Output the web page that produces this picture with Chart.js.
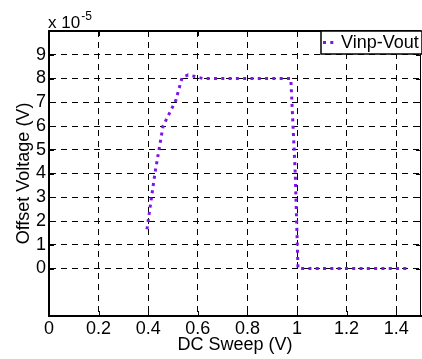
<!DOCTYPE html>
<html>
<head>
<meta charset="utf-8">
<script src="https://cdn.jsdelivr.net/npm/chart.js@4.4.0/dist/chart.umd.min.js"></script>
<style>
  html, body { margin: 0; padding: 0; background: #fff; }
  #wrap { width: 422px; height: 359px; }
</style>
</head>
<body>
<div id="wrap"><canvas id="graph"></canvas></div>
<script>
// DC sweep (V) and offset voltage, in units of 1e-5 V
var sweep = [0.395, 0.427, 0.46, 0.511, 0.537, 0.561, 0.595, 0.62, 0.975, 0.993, 1.004, 1.45];
var offset = [1.65, 4.0, 6.0, 7.07, 8.05, 8.15, 8.07, 8.0, 8.0, 4.0, 0.0, 0.0];
var xTicks = [0, 0.2, 0.4, 0.6, 0.8, 1, 1.2, 1.4];
var yTicks = [0, 1, 2, 3, 4, 5, 6, 7, 8, 9];
var seriesName = 'Vinp-Vout';
var exponent = '-5';

var purple = '#7d14ea';
var font = 'Liberation Sans, Arial, sans-serif';

var points = [];
for (var i = 0; i < sweep.length; i++) {
    points.push({x: sweep[i], y: offset[i]});
}

// box, inner tick marks, exponent label and legend (matlab style)
var matlabBits = {
    id: 'matlabBits',
    afterDraw: function(chart) {
        var ctx = chart.ctx;
        var a = chart.chartArea;
        var xs = chart.scales.x, ys = chart.scales.y;
        ctx.save();
        ctx.strokeStyle = '#000';
        ctx.lineWidth = 2;
        ctx.beginPath();
        ctx.moveTo(a.left, a.top);
        ctx.lineTo(a.right, a.top);
        ctx.stroke();
        ctx.lineWidth = 1;
        ctx.beginPath();
        ctx.moveTo(a.right - 0.5, a.top);
        ctx.lineTo(a.right - 0.5, a.bottom);
        ctx.stroke();

        // inner ticks
        ctx.lineWidth = 1;
        ctx.beginPath();
        xTicks.forEach(function(v) {
            var px = Math.round(xs.getPixelForValue(v)) + 0.5;
            ctx.moveTo(px, a.bottom); ctx.lineTo(px, a.bottom - 5);
            ctx.moveTo(px, a.top); ctx.lineTo(px, a.top + 5);
        });
        yTicks.forEach(function(v) {
            var py = Math.round(ys.getPixelForValue(v)) + 0.5;
            ctx.moveTo(a.left, py); ctx.lineTo(a.left + 5, py);
            ctx.moveTo(a.right, py); ctx.lineTo(a.right - 5, py);
        });
        ctx.stroke();

        // x 10^-5
        ctx.fillStyle = '#000';
        ctx.textBaseline = 'alphabetic';
        ctx.textAlign = 'left';
        ctx.font = '17px ' + font;
        ctx.fillText('x 10', a.left - 1, 28);
        var w = ctx.measureText('x 10').width;
        ctx.font = '12px ' + font;
        ctx.fillText(exponent, a.left - 1 + w + 1, 20);

        // legend
        var lx = 321, ly = a.top, lw = a.right - 321 + 1, lh = 23;
        ctx.fillStyle = '#fff';
        ctx.fillRect(lx, ly, lw, lh);
        ctx.strokeStyle = '#000';
        ctx.lineWidth = 1.5;
        ctx.strokeRect(lx, ly, lw, lh);
        ctx.strokeStyle = purple;
        ctx.lineWidth = 3;
        ctx.setLineDash([3, 4.3]);
        ctx.beginPath();
        ctx.moveTo(323, ly + lh / 2);
        ctx.lineTo(334, ly + lh / 2);
        ctx.stroke();
        ctx.setLineDash([]);
        ctx.fillStyle = '#000';
        ctx.font = '18px ' + font;
        ctx.textBaseline = 'middle';
        ctx.fillText(seriesName, 341, ly + lh / 2 + 1);
        ctx.restore();
    }
};

var myChart = document.getElementById('graph').getContext('2d');

var lineChart = new Chart(myChart, {
    type: 'scatter',
    data: {
        datasets: [{
            label: seriesName,
            data: points,
            showLine: true,
            fill: false,
            borderColor: purple,
            borderWidth: 3,
            borderDash: [3, 4.3],
            borderCapStyle: 'butt',
            pointRadius: 0,
            tension: 0,
        }],
    },
    options: {
        responsive: true,
        maintainAspectRatio: false,
        animation: false,
        layout: {
            padding: {top: 31, right: 1, left: 0, bottom: 0}
        },
        plugins: {
            legend: {display: false},
            tooltip: {enabled: false},
        },
        scales: {
            x: {
                type: 'linear',
                min: 0,
                max: 1.5,
                afterBuildTicks: function(s) {
                    s.ticks = xTicks.map(function(v) { return {value: v}; });
                },
                afterFit: function(s) { s.height = 43; },
                grid: {color: '#000', lineWidth: 1, drawTicks: false},
                border: {display: true, color: '#000', width: 2, dash: [6, 5]},
                ticks: {
                    color: '#000',
                    font: {family: font, size: 18},
                    padding: 2,
                    maxRotation: 0,
                    autoSkip: false,
                    callback: function(v) { return v; }
                },
                title: {
                    display: true,
                    text: 'DC Sweep (V)',
                    color: '#000',
                    font: {family: font, size: 18},
                    padding: {top: 0, bottom: 3.5}
                }
            },
            y: {
                type: 'linear',
                min: -2,
                max: 10,
                afterBuildTicks: function(s) {
                    s.ticks = yTicks.map(function(v) { return {value: v}; });
                },
                afterFit: function(s) { s.width = 49; },
                grid: {color: '#000', lineWidth: 1, drawTicks: false},
                border: {display: true, color: '#000', width: 2, dash: [6, 5]},
                ticks: {
                    color: '#000',
                    font: {family: font, size: 18},
                    padding: 3,
                    autoSkip: false,
                    callback: function(v) { return v; }
                },
                title: {
                    display: true,
                    text: 'Offset Voltage (V)',
                    color: '#000',
                    font: {family: font, size: 18},
                    padding: {top: 13, bottom: 0}
                }
            }
        }
    },
    plugins: [matlabBits]
});
</script>
</body>
</html>
